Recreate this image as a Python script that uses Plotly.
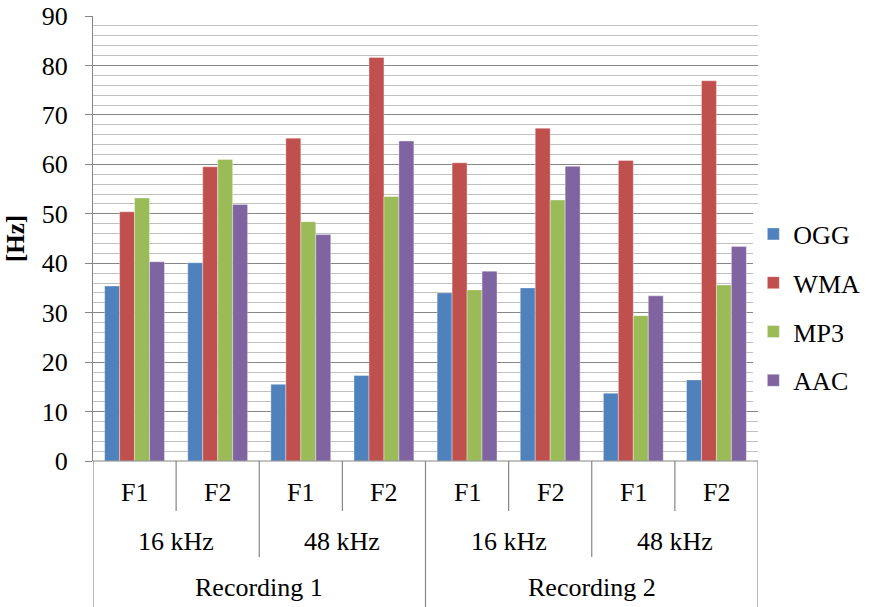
import plotly.graph_objects as go

categories_f = ["F1", "F2", "F1", "F2", "F1", "F2", "F1", "F2"]
categories_khz = ["16 kHz", "48 kHz", "16 kHz", "48 kHz"]
categories_rec = ["Recording 1", "Recording 2"]

series_names = ["OGG", "WMA", "MP3", "AAC"]
ogg = [35.4, 40.1, 15.5, 17.3, 34.0, 35.0, 13.7, 16.4]
wma = [50.4, 59.5, 65.3, 81.6, 60.3, 67.3, 60.8, 76.9]
mp3 = [53.2, 61.0, 48.4, 53.5, 34.6, 52.8, 29.4, 35.6]
aac = [40.3, 51.9, 45.8, 64.7, 38.4, 59.6, 33.4, 43.4]
colors = ["#4F81BD", "#C0504D", "#9BBB59", "#8064A2"]

FONT = "Liberation Serif"
FS = 26
x = list(range(len(categories_f)))

fig = go.Figure()
for name, vals, col in zip(series_names, [ogg, wma, mp3, aac], colors):
    fig.add_trace(go.Bar(x=x, y=vals, name=name, marker_color=col,
                         marker_line=dict(color="rgba(255,255,255,0.6)", width=0.6),
                         legendgroup=name))

GRID_MAJ = "#868686"
GRID_MIN = "#C0C0C0"

fig.update_layout(
    width=889, height=607,
    margin=dict(l=93, r=131, t=16, b=146, autoexpand=False),
    paper_bgcolor="white", plot_bgcolor="white",
    barmode="group", bargap=0.28, bargroupgap=0.0,
    font=dict(family=FONT, size=FS, color="black"),
    showlegend=True,
    legend=dict(x=0.993, xanchor="left", xref="paper", y=0.345, yanchor="middle",
                traceorder="grouped", tracegroupgap=12,
                font=dict(family=FONT, size=FS), itemwidth=30),
    xaxis=dict(range=[-0.5, 7.5], showticklabels=False, showgrid=False,
               zeroline=False, showline=False, ticks="", automargin=False),
    yaxis=dict(range=[0, 90], dtick=10, tick0=0, showgrid=True, gridcolor=GRID_MAJ,
               gridwidth=1.2, zeroline=False, showline=True, linecolor=GRID_MAJ,
               linewidth=1.2, ticks="outside", ticklen=7, tickcolor=GRID_MAJ,
               ticklabelstandoff=12, automargin=False, ticklabeloverflow="allow",
               tickfont=dict(family=FONT, size=FS),
               minor=dict(dtick=2, showgrid=True, gridcolor=GRID_MIN, gridwidth=1.2),
               title=dict(text="<b>[Hz]</b>", font=dict(family=FONT, size=25), standoff=9)),
)

# bottom axis line
fig.add_shape(type="line", xref="x", yref="paper", x0=-0.5, x1=7.5, y0=0, y1=0,
              line=dict(color=GRID_MAJ, width=1.2))

# category separators
ph = 445.0
def py(p):
    return (461 - p) / ph

for i in range(9):
    xb = i - 0.5
    if i in (0, 4, 8):
        yb = py(607)
    elif i in (2, 6):
        yb = py(557)
    else:
        yb = py(511)
    fig.add_shape(type="line", xref="x", yref="paper", x0=xb, x1=xb, y0=0, y1=yb,
                  line=dict(color=GRID_MAJ, width=1.2))

for i, lab in enumerate(categories_f):
    fig.add_annotation(x=i, y=py(493), xref="x", yref="paper", text=lab,
                       yanchor="middle", showarrow=False, font=dict(family=FONT, size=FS))
for j, lab in enumerate(categories_khz):
    fig.add_annotation(x=2 * j + 0.5, y=py(541), xref="x", yref="paper", text=lab,
                       yanchor="middle", showarrow=False, font=dict(family=FONT, size=FS))
for k, lab in enumerate(categories_rec):
    fig.add_annotation(x=4 * k + 1.5, y=py(587), xref="x", yref="paper", text=lab,
                       yanchor="middle", showarrow=False, font=dict(family=FONT, size=FS))

fig.write_html("out.html", config={"displayModeBar": False},
               post_script="document.body.style.margin='0';")
